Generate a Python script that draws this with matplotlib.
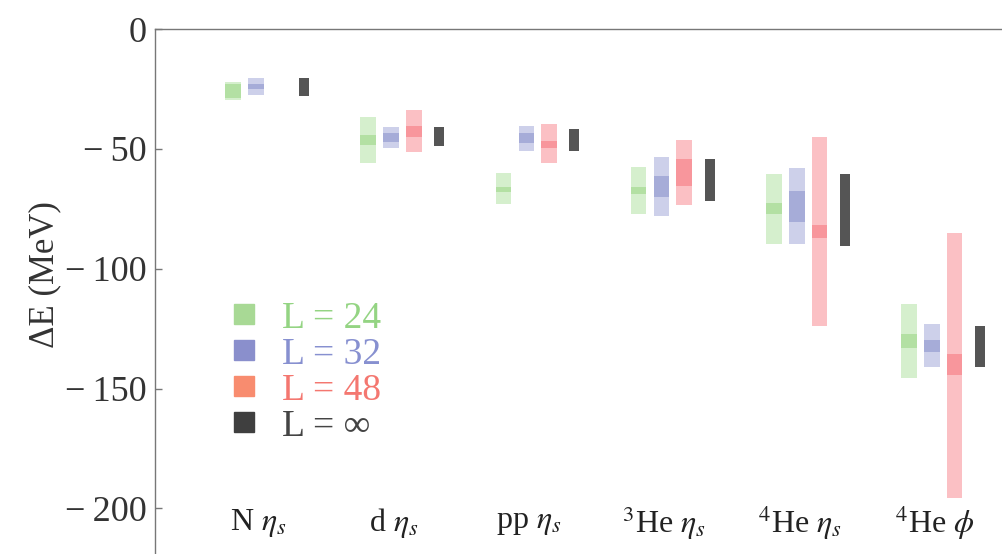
import matplotlib
matplotlib.use("Agg")
import matplotlib.pyplot as plt
from matplotlib.lines import Line2D
import numpy as np

# ---------------- data ----------------
categories = ["N $\\eta_s$", "d $\\eta_s$", "pp $\\eta_s$",
              "$^{3}$He $\\eta_s$", "$^{4}$He $\\eta_s$", "$^{4}$He $\\phi$"]
series_labels = ["L = 24", "L = 32", "L = 48", "L = ∞"]

# L = 24 : total band (outer) and statistical band (inner), MeV
l24_outer_lo = [-29.6, -55.9, -73.0, -77.2, -89.7, -145.6]
l24_outer_hi = [-22.1, -36.7, -60.1, -57.4, -60.5, -114.7]
l24_inner_lo = [-28.8, -48.4, -68.0, -68.8, -77.2, -133.1]
l24_inner_hi = [-22.9, -44.2, -65.9, -65.9, -72.6, -127.2]

# L = 32
l32_outer_lo = [-27.5, -49.6, -50.9, -78.0, -89.7, -141.0]
l32_outer_hi = [-20.4, -40.9, -40.5, -53.4, -58.0, -123.0]
l32_inner_lo = [-25.0, -47.1, -47.5, -70.1, -80.5, -134.7]
l32_inner_hi = [-22.9, -43.4, -43.4, -61.3, -67.6, -129.7]

# L = 48 (no nucleon point)
l48_outer_lo = [np.nan, -51.3, -55.9, -73.4, -123.9, -195.6]
l48_outer_hi = [np.nan, -33.8, -39.6, -46.3, -45.0, -85.1]
l48_inner_lo = [np.nan, -45.0, -49.6, -65.5, -87.2, -144.3]
l48_inner_hi = [np.nan, -40.5, -46.7, -54.2, -81.8, -135.6]

# L = infinity extrapolation
linf_lo = [-27.9, -48.8, -50.9, -71.7, -90.5, -141.0]
linf_hi = [-20.4, -40.9, -41.7, -54.2, -60.5, -123.9]

yticks = [0, -50, -100, -150, -200]
ytick_labels = ["0", "\u2212\u200950", "\u2212\u2009100", "\u2212\u2009150", "\u2212\u2009200"]

# ---------------- style ----------------
plt.rcParams["font.family"] = ["Liberation Serif", "DejaVu Serif"]
plt.rcParams["mathtext.fontset"] = "stix"

green_out, green_in = "#d5efcd", "#b3e0a3"
blue_out, blue_in = "#cdd0ea", "#a6acd8"
red_out, red_in = "#fbc0c4", "#f8969c"
black_bar = "#555555"
leg_marker = ["#a8d995", "#8a8fcc", "#f88c6f", "#3f3f3f"]
leg_text = ["#94d483", "#8790d0", "#f47770", "#444444"]
axis_col = "#777777"

fig = plt.figure(figsize=(10.02, 5.54), dpi=100)
ax = fig.add_axes([155 / 1002, 0.0, 847 / 1002, 525 / 554])

x = np.arange(len(categories), dtype=float)
w_col = 0.115
w_blk = 0.074
off = {"24": -0.17, "32": 0.0, "48": 0.167, "inf": 0.355}


def band(xpos, lo, hi, width, color):
    lo = np.asarray(lo, float)
    hi = np.asarray(hi, float)
    m = ~np.isnan(lo)
    ax.bar(xpos[m], (hi - lo)[m], bottom=lo[m], width=width, color=color,
           linewidth=0, zorder=2)


band(x + off["24"], l24_outer_lo, l24_outer_hi, w_col, green_out)
band(x + off["24"], l24_inner_lo, l24_inner_hi, w_col, green_in)
band(x + off["32"], l32_outer_lo, l32_outer_hi, w_col, blue_out)
band(x + off["32"], l32_inner_lo, l32_inner_hi, w_col, blue_in)
band(x + off["48"], l48_outer_lo, l48_outer_hi, w_col, red_out)
band(x + off["48"], l48_inner_lo, l48_inner_hi, w_col, red_in)
band(x + off["inf"], linf_lo, linf_hi, w_blk, black_bar)

ax.set_xlim(-0.747, 5.518)
ax.set_ylim(-219, 0)

# category labels inside the plot near the bottom
for xi, lab in zip(x, categories):
    ax.text(xi + 0.02, -206, lab, ha="center", va="center", fontsize=23,
            color="#222222")

# axes styling (Mathematica-like: y axis on left, x axis line at y = 0)
for s in ["right", "bottom"]:
    ax.spines[s].set_visible(False)
ax.spines["left"].set_color(axis_col)
ax.spines["top"].set_color(axis_col)
ax.spines["left"].set_linewidth(1.0)
ax.spines["top"].set_linewidth(1.0)
ax.set_xticks([])
ax.set_yticks(yticks)
ax.set_yticklabels(ytick_labels)
ax.tick_params(axis="y", direction="in", length=5, width=1, color=axis_col,
               labelsize=26, labelcolor="#333333", pad=6)
for t in ax.get_yticklabels():
    t.set_clip_on(False)

fig.text(45 / 1002, 1 - 275 / 554, "ΔE (MeV)", rotation=90, ha="center",
         va="center", fontsize=25, color="#333333")

handles = [Line2D([], [], marker="s", linestyle="none", markersize=14,
                  markerfacecolor=c, markeredgecolor=c) for c in leg_marker]
leg = ax.legend(handles, series_labels, loc="upper left",
                bbox_to_anchor=((225 - 155) / 847, (554 - 301) / 525),
                frameon=False, fontsize=27, handlelength=1.0,
                handletextpad=0.53, labelspacing=0.04, borderpad=0,
                borderaxespad=0)
for t, c in zip(leg.get_texts(), leg_text):
    t.set_color(c)

fig.savefig("out.png", dpi=100)
